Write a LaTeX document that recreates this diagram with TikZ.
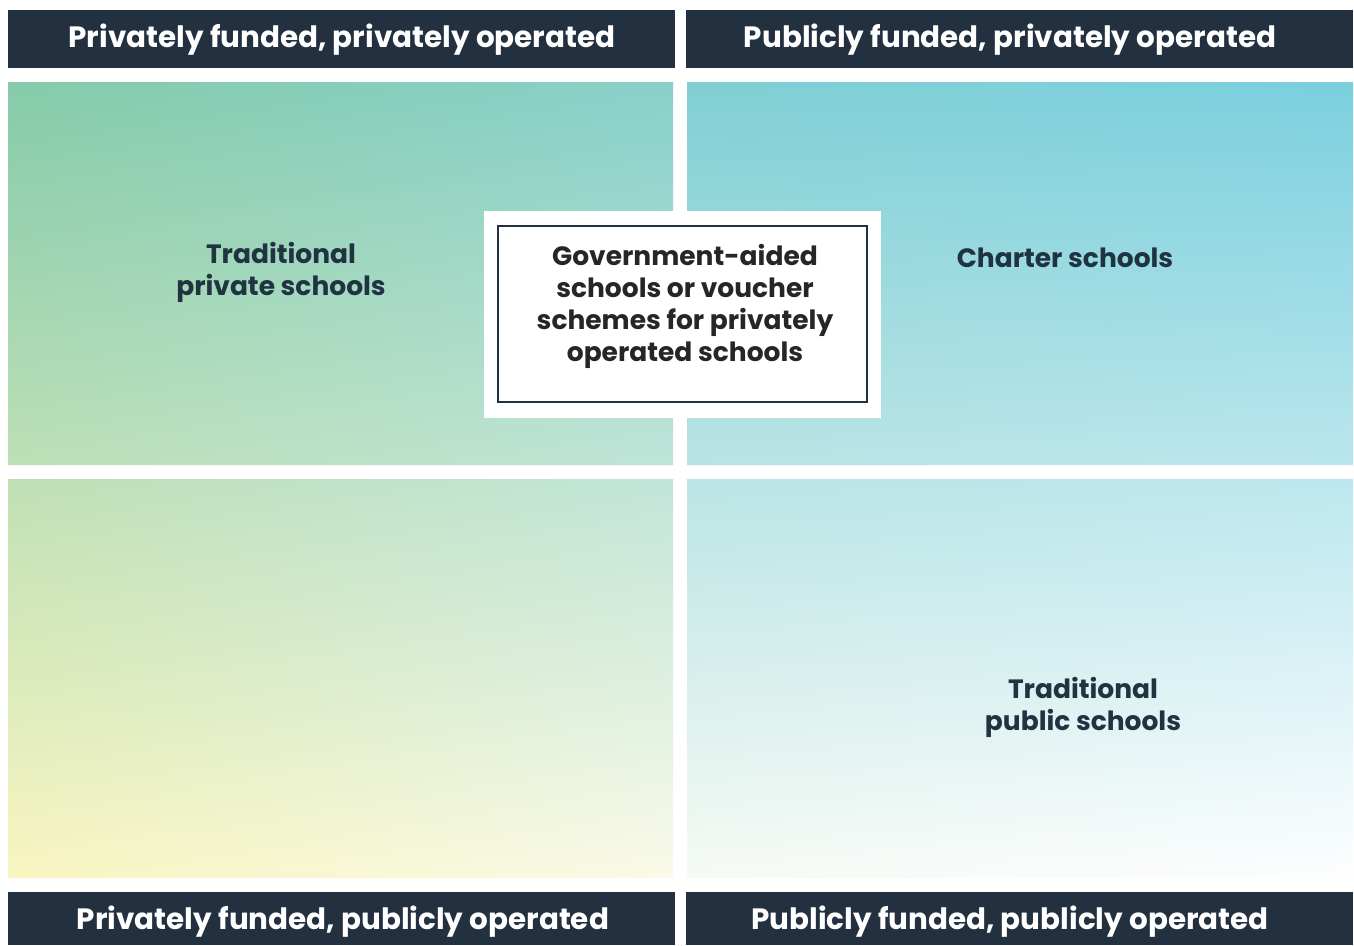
\documentclass[tikz,border=0pt]{standalone}
\usepackage{fontspec}
\setmainfont{Poppins}
\usetikzlibrary{shadings}
\definecolor{navy}{HTML}{22303F}
\definecolor{txt}{HTML}{1F3340}
\definecolor{cTL}{RGB}{133,203,170}
\definecolor{cTM1}{RGB}{136,208,202}
\definecolor{cTM2}{RGB}{128,207,212}
\definecolor{cTR}{RGB}{123,208,222}
\definecolor{cBL}{RGB}{249,245,192}
\definecolor{cBM1}{RGB}{250,250,232}
\definecolor{cBM2}{RGB}{246,250,244}
\definecolor{cBR}{RGB}{253,254,255}
\tikzset{
  hdr/.style={fill=navy,draw=none},
  hdrtext/.style={text=white,font=\bfseries\fontsize{29.4}{34}\selectfont,inner sep=0pt},
  lbl/.style={text=txt,font=\bfseries\fontsize{26.5}{32}\selectfont,align=center,inner sep=0pt},
  ctr/.style={text=black!85,font=\bfseries\fontsize{26.5}{32}\selectfont,align=center,inner sep=0pt}
}
\begin{document}
\begin{tikzpicture}[x=1pt,y=-1pt]
\useasboundingbox[fill=white] (0,0) rectangle (1354,945);
% headers
\fill[hdr] (8,10) rectangle (675,68);
\fill[hdr] (686,10) rectangle (1353,68);
\fill[hdr] (8,892) rectangle (675,945);
\fill[hdr] (686,892) rectangle (1353,945);
% gradient panels, left column
\begin{scope}
\clip (8,82) rectangle (673,465) (8,479) rectangle (673,878);
\shade[shading=bilinear interpolation,upper left=cTL,upper right=cTM1,lower left=cBL,lower right=cBM1]
  (8,82) rectangle (673,878);
\end{scope}
% right column
\begin{scope}
\clip (687,82) rectangle (1353,465) (687,479) rectangle (1353,878);
\shade[shading=bilinear interpolation,upper left=cTM2,upper right=cTR,lower left=cBM2,lower right=cBR]
  (687,82) rectangle (1353,878);
\end{scope}
% center box
\fill[white] (484,211) rectangle (881,418);
\draw[navy,line width=2.5pt] (498,226) rectangle (867,402);
% texts
\node[hdrtext] (h1) at (342,40) {Privately funded, privately operated};
\node[hdrtext] (h2) at (1010,40) {Publicly funded, privately operated};
\node[hdrtext] (h3) at (343,922) {Privately funded, publicly operated};
\node[hdrtext] (h4) at (1010,922) {Publicly funded, publicly operated};
\node[lbl] (tps) at (281,272) {Traditional\\private schools};
\node[lbl] (cs) at (1065,258) {Charter schools};
\node[lbl] (tpub) at (1083,707) {Traditional\\public schools};
\node[ctr] (gov) at (685,306) {Government-aided\\schools or voucher\\schemes for privately\\operated schools};
\end{tikzpicture}
\end{document}
